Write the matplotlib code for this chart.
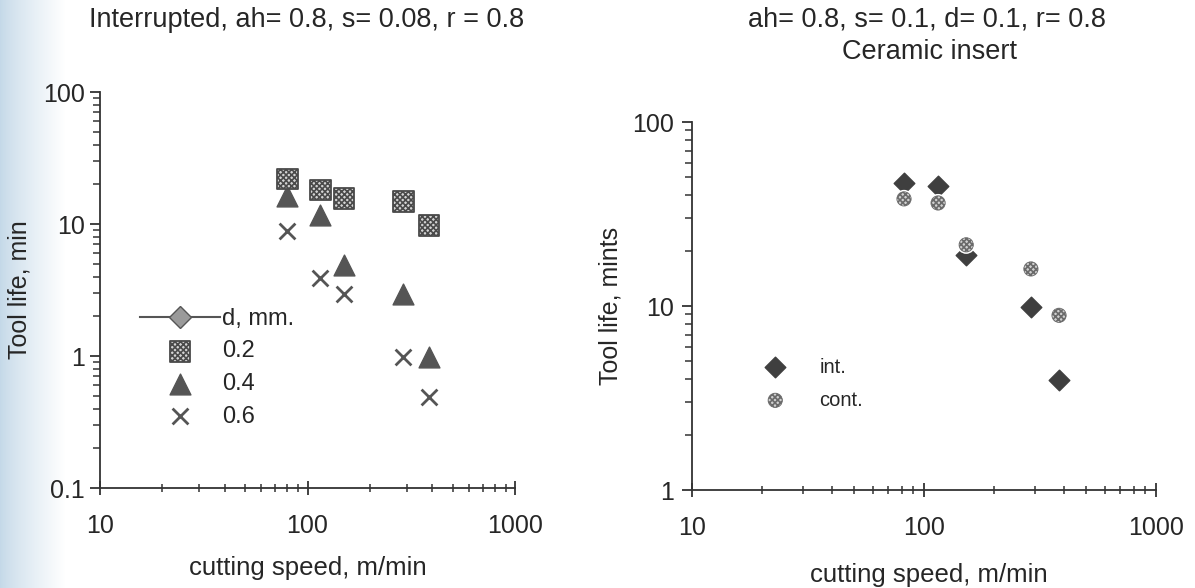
import numpy as np
import matplotlib.pyplot as plt
from matplotlib.lines import Line2D
from matplotlib.ticker import LogLocator, FuncFormatter, NullFormatter

plt.rcParams['font.family'] = ['Liberation Sans', 'DejaVu Sans']
plt.rcParams['hatch.linewidth'] = 1.2

TXT = '#262626'
AX = '#333333'

# interrupted cutting: tool life (min) vs cutting speed (m/min), three depths of cut
speed = [80, 115, 150, 290, 385]
life_d02 = [21.9, 18.1, 15.7, 14.7, 9.8]
life_d04 = [16.3, 11.7, 4.9, 2.97, 0.99]
life_d06 = [8.85, 3.9, 2.97, 0.99, 0.49]

# ceramic insert: interrupted vs continuous cutting
speed_cer = [82, 115, 152, 289, 382]
life_int = [46.6, 44.9, 18.9, 9.9, 3.96]
life_cont = [38.2, 36.3, 21.5, 15.9, 8.9]

fig = plt.figure(figsize=(11.95, 5.88), dpi=100)

# scanner tint along the left edge of the page
bg = fig.add_axes([0, 0, 1, 1], zorder=-10)
bg.axis('off')
w = 1195
t = np.clip(np.arange(w) / 65.0, 0, 1) ** 0.8
tint = np.array([0.77, 0.85, 0.91])
row = tint[None, :] * (1 - t[:, None]) + np.ones(3)[None, :] * t[:, None]
bg.imshow(np.repeat(row[None, :, :], 10, axis=0), aspect='auto', extent=[0, 1, 0, 1])
bg.set_xlim(0, 1)
bg.set_ylim(0, 1)

fmt = FuncFormatter(lambda v, p: '%g' % v)


def style_axes(ax, ymin, ymax, ypad):
    ax.set_facecolor('none')
    ax.set_xscale('log')
    ax.set_yscale('log')
    ax.set_xlim(10, 1000)
    ax.set_ylim(ymin, ymax)
    for s in ['top', 'right']:
        ax.spines[s].set_visible(False)
    for s in ['left', 'bottom']:
        ax.spines[s].set_color(AX)
        ax.spines[s].set_linewidth(1.3)
    ax.xaxis.set_major_locator(LogLocator(base=10))
    ax.yaxis.set_major_locator(LogLocator(base=10))
    ax.xaxis.set_minor_locator(LogLocator(base=10, subs=np.arange(2, 10)))
    ax.yaxis.set_minor_locator(LogLocator(base=10, subs=np.arange(2, 10)))
    ax.xaxis.set_major_formatter(fmt)
    ax.yaxis.set_major_formatter(fmt)
    ax.xaxis.set_minor_formatter(NullFormatter())
    ax.yaxis.set_minor_formatter(NullFormatter())
    ax.tick_params(axis='x', which='major', direction='inout', length=10, width=1.3,
                   color=AX, labelsize=18, labelcolor=TXT, pad=14)
    ax.tick_params(axis='x', which='minor', direction='inout', length=6, width=1.1, color=AX)
    ax.tick_params(axis='y', which='major', direction='out', length=7, width=1.3,
                   color=AX, labelsize=18, labelcolor=TXT, pad=ypad)
    ax.tick_params(axis='y', which='minor', direction='out', length=5, width=1.1, color=AX)


############################ Interrupted cutting ############################
ax1 = fig.add_axes([100 / 1195, 1 - 488 / 588, 415 / 1195, 396 / 588])
style_axes(ax1, 0.1, 100, 4)

ax1.scatter(speed, life_d04, marker='^', s=225, facecolor='#555555', edgecolor='#555555',
            linewidths=1, zorder=3, label='0.4')
ax1.scatter(speed, life_d02, marker='s', s=225, facecolor='#d4d4d4', edgecolor='#4a4a4a',
            hatch='xxxxxx', linewidths=1.3, zorder=4, label='0.2')
ax1.scatter(speed, life_d06, marker='x', s=130, color='#555555', linewidths=2,
            zorder=3, label='0.6')

ax1.set_xlabel('cutting speed, m/min', fontsize=18.5, color=TXT)
ax1.set_ylabel('Tool life, min', fontsize=18, color=TXT)
ax1.xaxis.set_label_coords(0.5, -0.172)
ax1.yaxis.set_label_coords(-0.165, 0.5)

header = Line2D([], [], color='#555555', lw=1.5, marker='D', markersize=11,
                markerfacecolor='#9a9a9a', markeredgecolor='#555555')
h, l = ax1.get_legend_handles_labels()
order = [1, 0, 2]
ax1.legend([header] + [h[i] for i in order], ['d, mm.'] + [l[i] for i in order],
           loc='upper left', bbox_to_anchor=(0.096, 0.455), frameon=False,
           fontsize=17, handlelength=3.4, handletextpad=0.1, labelspacing=0.45,
           borderpad=0, borderaxespad=0, scatterpoints=1, labelcolor=TXT)

fig.text(307 / 1195, 1 - 20 / 588, 'Interrupted, ah= 0.8, s= 0.08, r = 0.8',
         ha='center', va='center', fontsize=19.5, color=TXT)

############################ Ceramic insert ############################
ax2 = fig.add_axes([692 / 1195, 1 - 490 / 588, 464 / 1195, 368 / 588])
style_axes(ax2, 1, 100, 6)

ax2.scatter(speed_cer, life_int, marker='D', s=110, facecolor='#3f3f3f', edgecolor='#3f3f3f',
            linewidths=1, zorder=3, label='int.')
# white ring under the continuous-cut points
ax2.scatter(speed_cer, life_cont, marker='o', s=170, facecolor='white', edgecolor='none',
            zorder=4)
ax2.scatter(speed_cer, life_cont, marker='o', s=105, facecolor='#d0d0d0', edgecolor='#6a6a6a',
            hatch='xxxxxx', linewidths=0.6, zorder=5, label='cont.')

ax2.set_xlabel('cutting speed, m/min', fontsize=18.5, color=TXT)
ax2.set_ylabel('Tool life, mints', fontsize=18, color=TXT)
ax2.xaxis.set_label_coords(0.51, -0.198)
ax2.yaxis.set_label_coords(-0.149, 0.5)

h2, l2 = ax2.get_legend_handles_labels()
ax2.legend(h2, l2, loc='upper left', bbox_to_anchor=(0.136, 0.36), frameon=False,
           fontsize=14.5, handlelength=2.0, handletextpad=1.2, labelspacing=0.7,
           borderpad=0, borderaxespad=0, scatterpoints=1, labelcolor=TXT)

fig.text(927 / 1195, 1 - 20 / 588, 'ah= 0.8, s= 0.1, d= 0.1, r= 0.8',
         ha='center', va='center', fontsize=19.5, color=TXT)
fig.text(930 / 1195, 1 - 52 / 588, 'Ceramic insert',
         ha='center', va='center', fontsize=19.5, color=TXT)

fig.savefig('out.png', dpi=100)
